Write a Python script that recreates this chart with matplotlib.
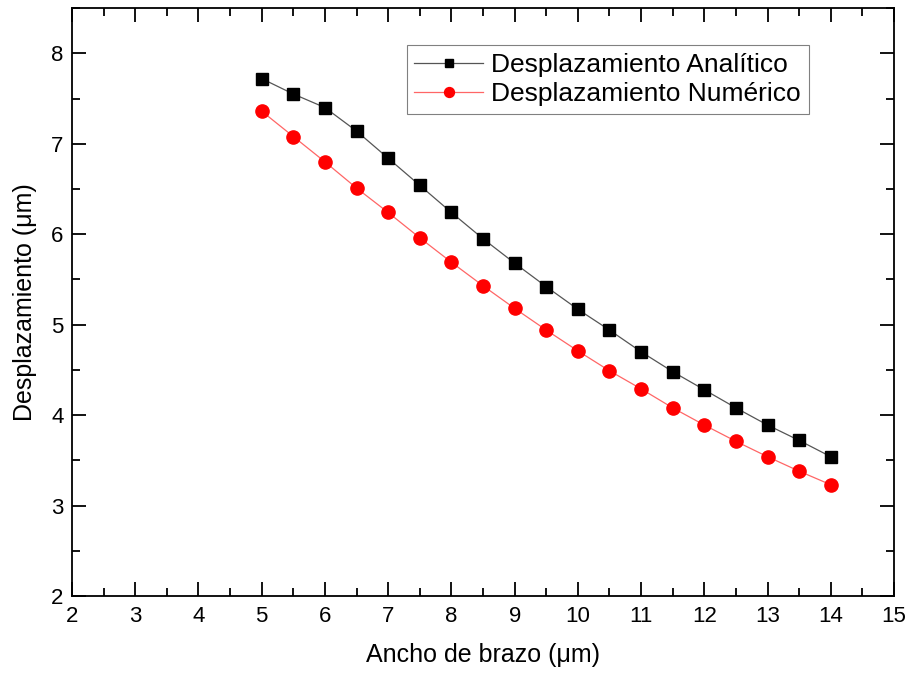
import matplotlib
matplotlib.use("Agg")
import matplotlib.pyplot as plt

plt.rcParams['font.family'] = ['Liberation Sans', 'DejaVu Sans']

ancho = [5, 5.5, 6, 6.5, 7, 7.5, 8, 8.5, 9, 9.5, 10, 10.5, 11, 11.5, 12, 12.5, 13, 13.5, 14]
analitico = [7.72, 7.55, 7.40, 7.14, 6.84, 6.54, 6.24, 5.95, 5.68, 5.42, 5.17, 4.94, 4.70,
             4.48, 4.28, 4.08, 3.89, 3.72, 3.54]
numerico = [7.36, 7.08, 6.80, 6.51, 6.24, 5.96, 5.69, 5.43, 5.18, 4.94, 4.71, 4.49, 4.29,
            4.08, 3.89, 3.71, 3.54, 3.38, 3.23]

fig = plt.figure(figsize=(9.08, 6.73), dpi=100)
ax = fig.add_axes([0.0793, 0.1144, 0.9053, 0.8736])

ax.plot(ancho, analitico, color='#555555', lw=0.9, marker='s', ms=8.5,
        mec='black', mfc='black', label='Desplazamiento Analítico')
ax.plot(ancho, numerico, color='#ff6666', lw=0.9, marker='o', ms=9.5,
        mec='red', mfc='red', label='Desplazamiento Numérico')

ax.set_xlim(2, 15)
ax.set_ylim(2, 8.5)
ax.set_xticks(range(2, 16))
ax.set_yticks(range(2, 9))
ax.set_xticks([x + 0.5 for x in range(2, 15)], minor=True)
ax.set_yticks([y + 0.5 for y in range(2, 9)], minor=True)
ax.tick_params(which='both', direction='in', top=True, right=True, labelsize=16, width=1.3)
ax.tick_params(which='major', length=10)
ax.tick_params(which='minor', length=6)
ax.tick_params(axis='x', pad=7)
ax.tick_params(axis='y', pad=6)
for s in ax.spines.values():
    s.set_linewidth(1.3)

ax.set_xlabel('Ancho de brazo (μm)', fontsize=18, labelpad=12)
ax.set_ylabel('Desplazamiento (μm)', fontsize=18, labelpad=10)

leg = ax.legend(loc='upper left', bbox_to_anchor=(0.407, 0.937), fontsize=19, fancybox=False,
                edgecolor='gray', framealpha=1, handlelength=2.6, borderpad=0.3,
                labelspacing=0.2, handletextpad=0.3, borderaxespad=0, markerscale=0.75)
leg.get_frame().set_linewidth(0.8)

fig.savefig('out.png', dpi=100)
